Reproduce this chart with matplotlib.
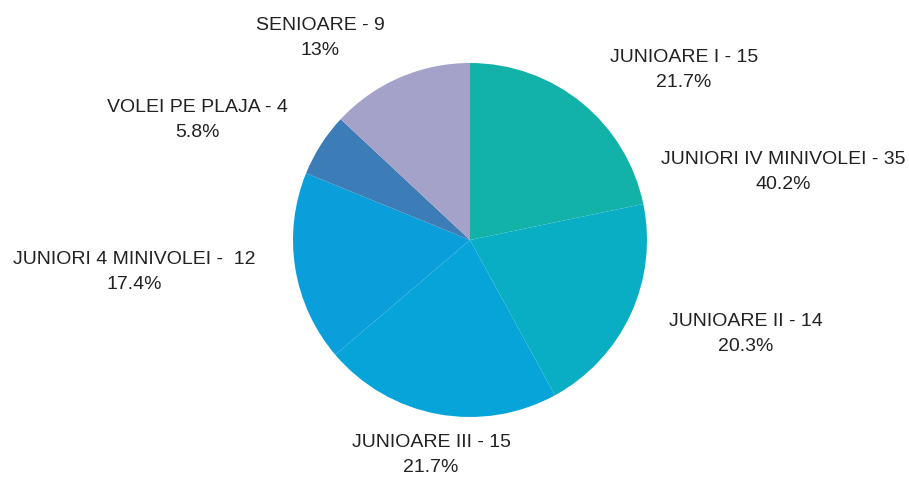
import matplotlib
matplotlib.use('Agg')
import matplotlib.pyplot as plt

# slice data (clockwise from 12 o'clock)
categories = ['JUNIOARE I', 'JUNIOARE II', 'JUNIOARE III',
              'JUNIORI 4 MINIVOLEI - ', 'VOLEI PE PLAJA', 'SENIOARE']
counts = [15, 14, 15, 12, 4, 9]
colors = ['#13b2a9', '#09adc4', '#07a4d9', '#0a9fda', '#3d7db7', '#a4a2c8']

# stray label sitting beside the pie in the original
extra_label = 'JUNIORI IV MINIVOLEI - 35'
extra_pct = '40.2%'

# label centres in pixel coords (y measured from top)
label_pos = [(684, 70), (746, 334), (431, 455), (134, 272), (197, 120), (320, 38)]
extra_pos = (783, 172)

W, H = 909, 479
fig = plt.figure(figsize=(W / 100, H / 100), dpi=100)
ax = fig.add_axes([0, 0, 1, 1])

ax.pie(counts, colors=colors, startangle=90, counterclock=False,
       center=(470, H - 240), radius=177,
       wedgeprops=dict(linewidth=0))
ax.set_xlim(0, W)
ax.set_ylim(0, H)
ax.set_aspect('equal')
ax.axis('off')

total = sum(counts)
for name, n, (x, y) in zip(categories, counts, label_pos):
    pct = 100 * n / total
    pct_txt = f'{pct:.1f}%'.replace('.0%', '%')
    sep = ' ' if name.endswith('- ') else ' - '
    ax.text(x, H - y, f'{name}{sep}{n}\n{pct_txt}', ha='center', va='center',
            fontsize=14, family='Liberation Sans', color='#222222',
            linespacing=1.6)

ax.text(extra_pos[0], H - extra_pos[1], f'{extra_label}\n{extra_pct}',
        ha='center', va='center', fontsize=14, family='Liberation Sans',
        color='#222222', linespacing=1.6)

fig.savefig('out.png', dpi=100, facecolor='white')
